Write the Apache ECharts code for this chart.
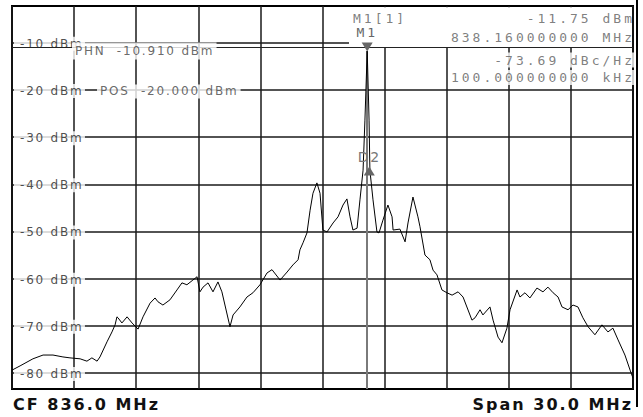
<!DOCTYPE html>
<html>
<head>
<meta charset="utf-8">
<script src="https://cdn.jsdelivr.net/npm/echarts@6/dist/echarts.min.js"></script>
<style>
html, body { margin: 0; padding: 0; background: #fff; }
#chart { width: 643px; height: 417px; }
/* analyzer screen font is widely spaced */
#chart text { letter-spacing: 1.8px; white-space: pre; }
#chart text[style*="Mono"] { letter-spacing: 3px; }
#chart text[style*="bold"] { letter-spacing: 2px; }
</style>
</head>
<body>
<div id="chart"></div>
<script>
// span settings
const centerFreq = 836.0;
const spanMHz = 30.0;

// trace: offset from CF (MHz) and level (dBm)
const freqOffset = [-15.00,-14.61,-13.99,-13.50,-13.02,-12.54,-12.20,-11.71,-11.38,-11.14,-10.89,-10.75,-10.41,-10.17,-10.02,-9.93,-9.88,-9.69,-9.44,-9.20,
  -8.91,-8.67,-8.33,-8.09,-7.95,-7.71,-7.37,-7.03,-6.79,-6.55,-6.26,-6.06,-5.92,-5.77,-5.53,-5.29,-5.05,-4.86,-4.47,-4.32,
  -3.99,-3.65,-3.36,-3.02,-2.68,-2.44,-2.05,-1.71,-1.43,-1.18,-1.09,-0.94,-0.75,-0.60,-0.46,-0.27,-0.12,0.02,0.22,0.51,
  0.75,0.99,1.18,1.33,1.47,1.67,1.81,1.96,2.05,2.16,2.25,2.29,2.44,2.63,2.73,2.92,3.16,3.36,3.41,3.74,
  3.99,4.13,4.37,4.61,4.71,4.95,5.19,5.34,5.53,5.77,6.01,6.26,6.55,6.79,7.22,7.37,7.61,7.75,8.09,8.24,
  8.48,8.67,8.91,9.06,9.40,9.54,9.78,10.02,10.36,10.65,10.89,11.14,11.38,11.57,11.86,12.10,12.34,12.58,12.83,13.16,
  13.50,13.79,14.03,14.28,14.61,14.86,15.00];
const levelDbm = [-79.4,-78.5,-77.0,-76.2,-76.2,-76.6,-76.8,-77.0,-77.5,-76.8,-77.5,-76.6,-73.4,-71.3,-69.8,-68.1,-68.3,-69.4,-68.1,-69.4,
  -70.7,-68.1,-65.2,-64.1,-64.9,-65.6,-64.5,-62.4,-60.9,-61.3,-60.3,-59.6,-62.8,-61.8,-60.9,-62.8,-60.7,-62.8,-70.2,-67.7,
  -66.0,-63.9,-63.0,-61.3,-58.8,-58.1,-60.3,-58.6,-57.1,-56.0,-53.9,-52.4,-50.3,-45.5,-41.9,-39.7,-41.9,-49.7,-50.1,-48.2,
  -46.9,-44.4,-43.1,-46.9,-49.7,-49.3,-43.3,-37.0,-26.4,-11.75,-26.4,-37.0,-43.3,-50.1,-50.3,-47.6,-44.4,-46.9,-49.7,-49.5,
  -52.2,-48.2,-42.7,-46.9,-49.0,-55.0,-56.0,-58.2,-59.2,-62.4,-63.0,-63.5,-62.8,-63.9,-68.8,-68.3,-66.6,-67.7,-66.0,-68.8,
  -72.4,-73.6,-70.5,-66.6,-62.4,-63.9,-63.0,-64.1,-62.0,-62.8,-61.8,-63.0,-63.9,-66.0,-66.6,-65.6,-66.0,-68.3,-70.2,-71.9,
  -69.8,-71.3,-70.5,-73.0,-76.2,-79.4,-81.1];

// level grid and its labels
const gridLevels = [-10, -20, -30, -40, -50, -60, -70, -80];
const gridLabels = gridLevels.map(v => v + ' dBm');

// markers and display lines
const m1 = [2.16, -11.75];
const d2 = [2.26, -37.2];
const phnLevel = -10.91;
const posLevel = -20.0;
const phnText = 'PHN  -10.910 dBm';
const posText = 'POS  -20.000 dBm';
const m1Info = ['M1[1]', '-11.75 dBm', '838.160000000 MHz'];
const d2Info = ['-73.69 dBc/Hz', '100.000000000 kHz'];
const infoBoxLeft = 1.28;   // MHz offset where the readout box starts

const xMin = -15, xMax = 15;
const yMin = -83.4, yMax = -2.2;

const chart = echarts.init(document.getElementById('chart'), null, { renderer: 'svg' });

const trace = freqOffset.map((f, i) => [f, levelDbm[i]]);
const gridColor = '#1a1a1a';
const sansFamily = 'DejaVu Sans';
const monoFamily = 'DejaVu Sans Mono';

// markers carry their own z, so every layer sets it explicitly
const series = [
  {
    id: 'grid', type: 'line', z: 1, data: [],
    markLine: {
      z: 1, silent: true, symbol: ['none', 'none'], label: { show: false },
      lineStyle: { color: gridColor, width: 1.5, type: 'solid' },
      emphasis: { disabled: true },
      data: gridLevels.map(v => ({ yAxis: v }))
    }
  },
  {
    id: 'levelLabels', type: 'scatter', z: 2, silent: true, clip: false, symbolSize: 0,
    data: gridLevels.map((v, i) => ({
      value: [xMin, v],
      label: {
        show: true, position: 'right', distance: 2, offset: [0, 1], formatter: gridLabels[i],
        color: '#222', fontFamily: sansFamily, fontSize: 12,
        backgroundColor: '#fff', padding: [1, 14, 1, 6]
      }
    }))
  },
  {
    id: 'box', type: 'line', z: 3, data: [],
    markArea: {
      z: 3, silent: true,
      itemStyle: { color: '#fff', opacity: 1, borderWidth: 0 },
      emphasis: { disabled: true },
      data: [[{ coord: [infoBoxLeft, yMax - 0.25] }, { coord: [xMax - 0.05, phnLevel] }]]
    }
  },
  {
    id: 'phn', type: 'line', z: 4, data: [],
    markLine: {
      z: 4, silent: true, symbol: ['none', 'none'], label: { show: false },
      lineStyle: { color: '#222', width: 1, type: 'solid' },
      emphasis: { disabled: true },
      data: [{ yAxis: phnLevel }]
    }
  },
  {
    id: 'lineLabels', type: 'scatter', z: 5, silent: true, clip: false, symbolSize: 0,
    data: [
      { value: [xMin, phnLevel], label: { show: true, position: 'right', distance: 60, offset: [0, 4], formatter: phnText,
        color: '#444', fontFamily: sansFamily, fontSize: 12, backgroundColor: '#fff', padding: [4, 31, 1, 3] } },
      { value: [xMin, posLevel], label: { show: true, position: 'right', distance: 85, offset: [0, 1.5], formatter: posText,
        color: '#444', fontFamily: sansFamily, fontSize: 12, backgroundColor: '#fff', padding: [1, 31, 1, 3] } }
    ]
  },
  {
    id: 'trace', type: 'line', z: 6, data: trace, symbol: 'none', silent: true,
    lineStyle: { color: '#000', width: 1 },
    markLine: {
      z: 6, silent: true, symbol: ['none', 'none'], label: { show: false },
      lineStyle: { color: '#7a7a7a', width: 2, type: 'solid' },
      emphasis: { disabled: true },
      data: [[{ coord: m1 }, { coord: [m1[0], yMin] }]]
    },
    markPoint: {
      z: 7, silent: true,
      data: [
        {
          coord: m1, symbol: 'path://M0,0 L10,0 L5,9 Z', symbolSize: [11, 9], symbolOffset: [0, -4],
          itemStyle: { color: '#666' },
          label: { show: true, position: 'top', distance: 4, formatter: 'M1', color: '#666', fontFamily: monoFamily, fontSize: 13 }
        },
        {
          coord: d2, symbol: 'triangle', symbolSize: [11, 9],
          itemStyle: { color: '#666' },
          label: { show: true, position: 'top', distance: 3, formatter: 'D2', color: '#777', fontFamily: sansFamily, fontSize: 14 }
        }
      ]
    }
  }
];

const option = {
  animation: false,
  backgroundColor: '#fff',
  grid: { z: 0, left: 12, right: 10, top: 6, bottom: 28, show: true, borderColor: '#000', borderWidth: 2 },
  xAxis: {
    z: 0, type: 'value', min: xMin, max: xMax, interval: 3,
    axisLine: { show: false }, axisTick: { show: false }, axisLabel: { show: false },
    splitLine: { show: true, lineStyle: { color: gridColor, width: 1.5 } }
  },
  yAxis: {
    z: 0, type: 'value', min: yMin, max: yMax,
    axisLine: { show: false }, axisTick: { show: false }, axisLabel: { show: false },
    splitLine: { show: false }
  },
  series: series
};
chart.setOption(option);

// readout texts, placed on screen rows of the box
const fromPx = (x, y) => chart.convertFromPixel({ gridIndex: 0 }, [x, y]);
const toPx = (x, y) => chart.convertToPixel({ gridIndex: 0 }, [x, y]);
const br = toPx(xMax, yMin);
const gRight = br[0], gBottom = br[1], gLeft = toPx(xMin, yMax)[0];
const infoFill = '#5e5e5e';
const infoRows = [
  { text: m1Info[0], at: [353, 18], pos: 'right', pad: [0, 0, 0, 0] },
  { text: m1Info[1], at: [gRight + 2, 18], pos: 'left', pad: [0, 0, 0, 0] },
  { text: m1Info[2], at: [gRight + 2, 37.5], pos: 'left', pad: [0, 0, 0, 0] },
  { text: d2Info[0], at: [gRight + 2, 60], pos: 'left', pad: [1, 0, 1, 41], bg: '#fff' },
  { text: d2Info[1], at: [gRight + 2, 77.5], pos: 'left', pad: [1, 0, 1, 53], bg: '#fff' }
];
series.push({
  id: 'readout', type: 'scatter', z: 8, silent: true, clip: false, symbolSize: 0,
  data: infoRows.map(r => ({
    value: fromPx(r.at[0], r.at[1]),
    label: { show: true, position: r.pos, distance: 0, formatter: r.text, color: infoFill,
      fontFamily: monoFamily, fontSize: 13, backgroundColor: r.bg || 'transparent', padding: r.pad }
  }))
});

const footFont = 'bold 16px "DejaVu Sans"';
chart.setOption({
  series: series,
  graphic: [
    // outer right frame line
    { type: 'line', shape: { x1: gRight + 4, y1: 0, x2: gRight + 4, y2: gBottom + 18 }, style: { stroke: '#000', lineWidth: 2 } },
    { type: 'text', x: gLeft + 1, y: gBottom + 15,
      style: { text: 'CF ' + centerFreq.toFixed(1) + ' MHz', font: footFont, fill: '#111', verticalAlign: 'middle', textVerticalAlign: 'middle' } },
    { type: 'text', x: gRight, y: gBottom + 15,
      style: { text: 'Span ' + spanMHz.toFixed(1) + ' MHz', font: footFont, fill: '#111', align: 'right', textAlign: 'right', verticalAlign: 'middle', textVerticalAlign: 'middle' } }
  ]
});
</script>
</body>
</html>
